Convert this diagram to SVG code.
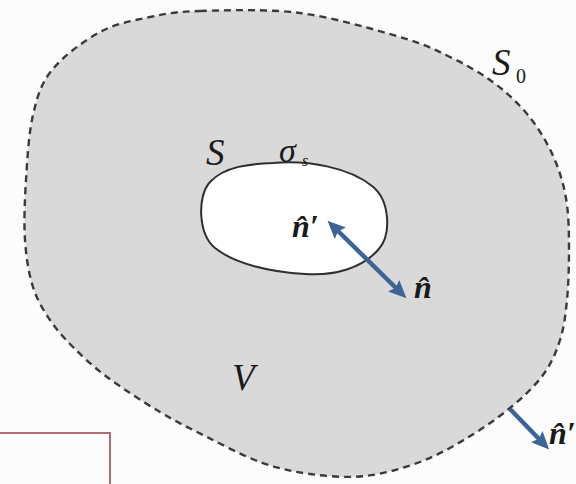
<svg xmlns="http://www.w3.org/2000/svg" width="576" height="484" viewBox="0 0 576 484">
  <style>
    text { font-family: "Liberation Serif", "DejaVu Serif", serif; fill: #1a1a1a; }
    .lbl { font-style: italic; }
    .up { font-style: normal; }
    .vec { font-style: italic; font-weight: bold; }
    .outer { fill: #d9d9d9; stroke: #3a3a3a; stroke-width: 2.4; stroke-dasharray: 7 5; }
    .inner { fill: #ffffff; stroke: #2e2e2e; stroke-width: 2; }
    .arrow { stroke: #3c6497; stroke-width: 4.5; fill: none; }
  </style>
  <defs>
    <marker id="head" viewBox="0 0 18 16" refX="4" refY="8" markerWidth="18" markerHeight="16" markerUnits="userSpaceOnUse" orient="auto-start-reverse">
      <path d="M0,0 L18,8 L0,16 L3,8 Z" fill="#3c6497"/>
    </marker>
  </defs>
  <rect x="0" y="0" width="576" height="484" fill="#fcfcfc"/>

  <g id="volume-V">
    <path class="outer" d="M200,11 C225,10.3 266.7,8.7 300,13 C333.3,17.3 375,29.7 400,37 C425,44.3 435,49.8 450,57 C465,64.2 478.3,71.8 490,80 C501.7,88.2 511.3,96.8 520,106 C528.7,115.2 535.7,124.7 542,135 C548.3,145.3 553.8,156.3 558,168 C562.2,179.7 565.2,191.3 567,205 C568.8,218.7 569,234.2 569,250 C569,265.8 568.5,285 567,300 C565.5,315 564,327.5 560,340 C556,352.5 551.3,363.7 543,375 C534.7,386.3 522.7,397.5 510,408 C497.3,418.5 482,429 467,438 C452,447 437,455.7 420,462 C403,468.3 383.3,474 365,476 C346.7,478 327.5,476.3 310,474 C292.5,471.7 277.2,468.2 260,462 C242.8,455.8 223.7,445.3 207,437 C190.3,428.7 176.7,422 160,412 C143.3,402 121.5,387.8 107,377 C92.5,366.2 82.5,356.5 73,347 C63.5,337.5 56.7,330 50,320 C43.3,310 37.2,300.3 33,287 C28.8,273.7 26.2,257.8 25,240 C23.8,222.2 24.7,200.8 26,180 C27.3,159.2 28.7,133.3 33,115 C37.3,96.7 40.8,83.8 52,70 C63.2,56.2 83.7,40.8 100,32 C116.3,23.2 133.3,20.5 150,17 C166.7,13.5 175,11.7 200,11 Z"/>
    <text class="lbl" x="232" y="390" font-size="37">V</text>
    <text class="lbl" x="492" y="75" font-size="37">S</text>
    <text class="up" x="516" y="83" font-size="20">0</text>
  </g>

  <g id="cavity-S">
    <path class="inner" d="M273,163 C310,160 350,168 372,186 C390,200 392,235 378,250 C362,268 335,276 305,274 C270,272 235,264 215,248 C198,234 197,196 210,182 C225,166 250,164 273,163 Z"/>
    <text class="lbl" x="206" y="165" font-size="37">S</text>
    <text class="lbl" x="279" y="162" font-size="34">σ</text>
    <text class="lbl" x="302" y="166" font-size="16">s</text>
  </g>

  <g id="connectors">
    <line class="arrow" x1="337.5" y1="230.5" x2="396.5" y2="288.5" marker-start="url(#head)" marker-end="url(#head)"/>
    <line class="arrow" x1="510" y1="409" x2="539.5" y2="439.5" marker-end="url(#head)"/>
  </g>

  <g id="normals">
    <text class="vec" x="292" y="237" font-size="32">n̂′</text>
    <text class="vec" x="414" y="298" font-size="32">n̂</text>
    <text class="vec" x="549" y="444" font-size="32">n̂′</text>
  </g>

  <g id="frame">
    <rect x="-5" y="433" width="115" height="60" fill="none" stroke="#9b3c44" stroke-width="1.5"/>
  </g>
</svg>
